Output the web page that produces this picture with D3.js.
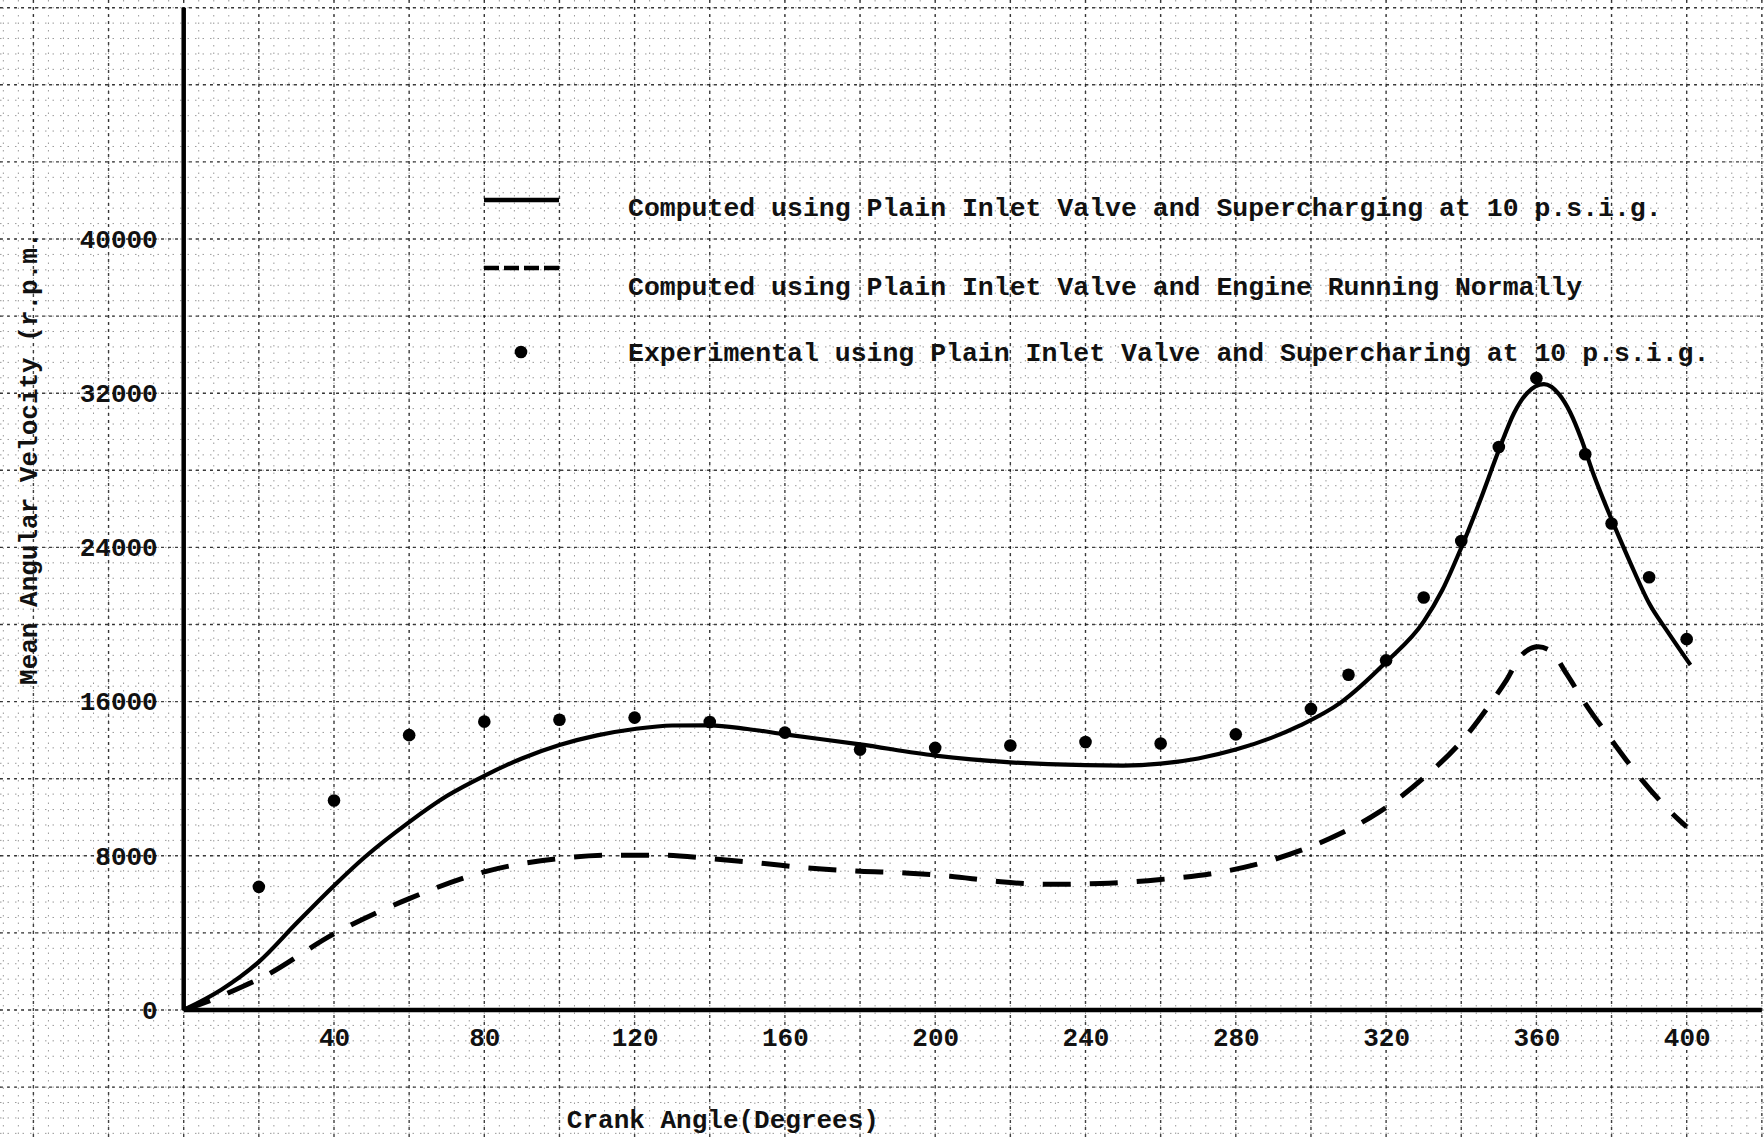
<!DOCTYPE html>
<html>
<head>
<meta charset="utf-8">
<title>Mean Angular Velocity vs Crank Angle</title>
<script src="https://cdn.jsdelivr.net/npm/d3@7"></script>
<style>
  html, body { margin: 0; padding: 0; background: #fff; }
  svg { display: block; }
  text { font-family: "Liberation Mono", "DejaVu Sans Mono", monospace; font-weight: bold; fill: #111; }
</style>
</head>
<body>
<script>
// ---- data -------------------------------------------------------------
const degreeTicks = [40, 80, 120, 160, 200, 240, 280, 320, 360, 400];
const rpmTicks = [0, 8000, 16000, 24000, 32000, 40000];

// computed, plain inlet valve, supercharging at 10 p.s.i.g.  [crank angle, rpm]
const computedSupercharged = [
  [0, 0], [10, 1050], [20, 2500], [30, 4500], [40, 6450], [48, 7900], [60, 9750],
  [70, 11100], [80, 12150], [90, 13050], [100, 13750], [110, 14250], [120, 14580],
  [130, 14760], [140, 14770], [150, 14580], [160, 14300], [180, 13780], [200, 13200],
  [220, 12850], [240, 12700], [250, 12680], [260, 12780], [270, 13050], [280, 13510],
  [297, 14750], [308, 15960], [320, 18050], [330, 20150], [335, 21800], [340, 23980],
  [345, 26420], [350, 29040], [354, 30950], [357.5, 32000], [362, 32470], [366, 31950],
  [369, 31000], [372, 29600], [375, 27900], [378, 26400], [381, 25000], [385, 23200],
  [390, 21100], [395, 19600], [401, 17900]
];

// computed, plain inlet valve, engine running normally
const computedNormal = [
  [0, 0], [8, 560], [16, 1250], [20, 1600], [40, 3950], [60, 5780], [80, 7170],
  [100, 7860], [114, 8035], [127, 8035], [140, 7860], [153, 7630], [166, 7370],
  [180, 7200], [192, 7110], [204, 6940], [216, 6680], [229, 6520], [244, 6560],
  [260, 6770], [276, 7150], [290, 7800], [305, 8900], [318, 10250], [330, 12040],
  [341, 14150], [348, 15960], [352, 17100], [356, 18400], [360.5, 18840],
  [364, 18600], [368, 17450], [373, 15900], [380, 14000], [388, 11950],
  [398, 9850], [400, 9500]
];

// experimental, plain inlet valve, supercharging at 10 p.s.i.g.
const experimental = [
  [20, 6390], [40, 10870], [60, 14260], [80, 14960], [100, 15060], [120, 15170],
  [140, 14940], [160, 14390], [180, 13510], [200, 13600], [220, 13720], [240, 13900],
  [260, 13830], [280, 14300], [300, 15620], [310, 17390], [320, 18140], [330, 21400],
  [340, 24330], [350, 29210], [360, 32780], [373, 28830], [380, 25240], [390, 22450],
  [400, 19240]
];

const legendLabels = [
  "Computed using Plain Inlet Valve and Supercharging at 10 p.s.i.g.",
  "Computed using Plain Inlet Valve and Engine Running Normally",
  "Experimental using Plain Inlet Valve and Supercharing at 10 p.s.i.g."
];
const xTitle = "Crank Angle(Degrees)";
const yTitle = "Mean Angular Velocity (r.p.m.";

// ---- layout -----------------------------------------------------------
const W = 1764, H = 1140;
const x = d3.scaleLinear().domain([0, 400]).range([183.7, 1686.7]);
const y = d3.scaleLinear().domain([0, 40000]).range([1010, 239]);
const rpmTop = 52000;     // upper end of the drawn vertical axis
const degRight = 420;     // right end of the drawn horizontal axis

const svg = d3.select("body").append("svg")
  .attr("width", W).attr("height", H)
  .attr("viewBox", `0 0 ${W} ${H}`);

svg.append("rect").attr("width", W).attr("height", H).attr("fill", "#fff");

// ---- graph paper ------------------------------------------------------
const grid = svg.append("g").attr("class", "graph-paper");
function stepsAcross(scale, lo, hi, step) {
  const a = Math.ceil(Math.min(scale.invert(lo), scale.invert(hi)) / step);
  const b = Math.floor(Math.max(scale.invert(lo), scale.invert(hi)) / step);
  return d3.range(a, b + 1).map(k => k * step);
}
// fine rulings
grid.selectAll("line.vminor").data(stepsAcross(x, 0, W, 4)).join("line")
  .attr("x1", d => x(d)).attr("x2", d => x(d)).attr("y1", 0).attr("y2", H)
  .attr("stroke", "#222").attr("stroke-width", 1).attr("stroke-opacity", 0.45)
  .attr("stroke-dasharray", "1.5,6");
grid.selectAll("line.hminor").data(stepsAcross(y, 0, H, 800)).join("line")
  .attr("y1", d => y(d)).attr("y2", d => y(d)).attr("x1", 0).attr("x2", W)
  .attr("stroke", "#222").attr("stroke-width", 1).attr("stroke-opacity", 0.45)
  .attr("stroke-dasharray", "1.5,6");
// main rulings
grid.selectAll("line.vmajor").data(stepsAcross(x, 0, W, 20)).join("line")
  .attr("x1", d => x(d)).attr("x2", d => x(d)).attr("y1", 0).attr("y2", H)
  .attr("stroke", "#111").attr("stroke-width", 1.4).attr("stroke-opacity", 0.8)
  .attr("stroke-dasharray", "3,4");
grid.selectAll("line.hmajor").data(stepsAcross(y, 0, H, 4000)).join("line")
  .attr("y1", d => y(d)).attr("y2", d => y(d)).attr("x1", 0).attr("x2", W)
  .attr("stroke", "#111").attr("stroke-width", 1.4).attr("stroke-opacity", 0.8)
  .attr("stroke-dasharray", "3,4");

// ---- axes -------------------------------------------------------------
svg.append("line")
  .attr("x1", x(0)).attr("x2", x(0)).attr("y1", y(0)).attr("y2", y(rpmTop))
  .attr("stroke", "#000").attr("stroke-width", 4.5);
svg.append("line")
  .attr("x1", x(0)).attr("x2", x(degRight)).attr("y1", y(0)).attr("y2", y(0))
  .attr("stroke", "#000").attr("stroke-width", 4.5);

const xAxis = svg.append("g")
  .attr("transform", `translate(0,${y(0)})`)
  .call(d3.axisBottom(x).tickValues(degreeTicks).tickSize(0).tickPadding(18)
        .tickFormat(d3.format("d")));
const yAxis = svg.append("g")
  .attr("transform", `translate(${x(0)},0)`)
  .call(d3.axisLeft(y).tickValues(rpmTicks).tickSize(0).tickPadding(26)
        .tickFormat(d3.format("d")));
[xAxis, yAxis].forEach(g => {
  g.select(".domain").remove();
  g.selectAll("text").style("font-size", "26px")
    .style("font-family", "'Liberation Mono', monospace").style("font-weight", "bold")
    .attr("fill", "#111");
});

svg.append("text")
  .attr("x", x(143.5)).attr("y", 1119).attr("dy", "0.35em")
  .attr("text-anchor", "middle").style("font-size", "26px")
  .text(xTitle);
svg.append("text")
  .attr("transform", `translate(28,${y(28600)}) rotate(-90)`)
  .attr("dy", "0.35em").attr("text-anchor", "middle").style("font-size", "26px")
  .text(yTitle);

// ---- curves -----------------------------------------------------------
const line = d3.line().x(d => x(d[0])).y(d => y(d[1])).curve(d3.curveMonotoneX);

svg.append("path").datum(computedNormal)
  .attr("d", line).attr("fill", "none").attr("stroke", "#000")
  .attr("stroke-width", 5).attr("stroke-dasharray", "28,19");

svg.append("path").datum(computedSupercharged)
  .attr("d", line).attr("fill", "none").attr("stroke", "#000")
  .attr("stroke-width", 4.2).attr("stroke-linejoin", "round");

svg.append("g").selectAll("circle").data(experimental).join("circle")
  .attr("cx", d => x(d[0])).attr("cy", d => y(d[1])).attr("r", 6.3)
  .attr("fill", "#000");

// ---- legend -----------------------------------------------------------
const legend = svg.append("g").attr("class", "legend");
const rowY = [207, 286, 352];
legend.append("line").attr("x1", 484).attr("x2", 559).attr("y1", 200).attr("y2", 200)
  .attr("stroke", "#000").attr("stroke-width", 4.5);
legend.append("line").attr("x1", 484).attr("x2", 559).attr("y1", 268).attr("y2", 268)
  .attr("stroke", "#000").attr("stroke-width", 4.5).attr("stroke-dasharray", "15,5");
legend.append("circle").attr("cx", 521).attr("cy", 352).attr("r", 6.3).attr("fill", "#000");
legend.selectAll("text").data(legendLabels).join("text")
  .attr("x", 628).attr("y", (d, i) => rowY[i]).attr("dy", "0.35em")
  .style("font-size", "26.5px")
  .text(d => d);
</script>
</body>
</html>
